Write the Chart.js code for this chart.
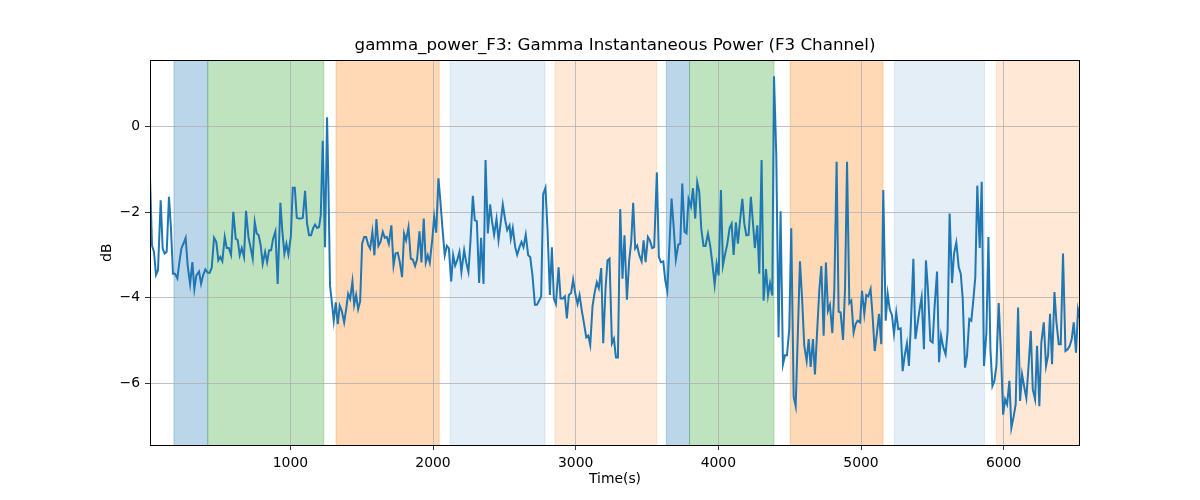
<!DOCTYPE html>
<html>
<head>
<meta charset="utf-8">
<script src="https://cdn.jsdelivr.net/npm/chart.js@4"></script>
<style>
  body { margin: 0; background: #fff; }
  #wrap { width: 1200px; height: 500px; }
</style>
</head>
<body>
<div id="wrap"><canvas id="chart" width="1200" height="500"></canvas></div>
<script>
// sample times (s) and F3 gamma power (dB)
const times = [
  16, 30, 44, 58, 72, 91, 105, 119, 133, 149, 163, 177, 191, 208, 222, 236, 250, 266, 280, 297, 313, 327, 341, 360, 374, 388, 404, 421, 435, 449, 465, 481, 495, 509, 523, 540, 554, 568, 584, 600, 617, 631, 645, 659, 675, 689, 706, 720, 736, 750, 764, 778, 792, 806, 823, 837, 851,
  865, 879, 895, 911, 930, 944, 958, 972, 986, 1003, 1017, 1031, 1045, 1059, 1073, 1087, 1103, 1117, 1131, 1145, 1159, 1173, 1187, 1201, 1213, 1227, 1243, 1257, 1267, 1278, 1292, 1304, 1318, 1332, 1346, 1360, 1377, 1391, 1405, 1419, 1435, 1447, 1461, 1475, 1489, 1503, 1517, 1531, 1545, 1559, 1575, 1589, 1603, 1617, 1631, 1648, 1662, 1676, 1690,
  1708, 1723, 1737, 1753, 1767, 1783, 1797, 1811, 1828, 1844, 1858, 1874, 1888, 1905, 1919, 1935, 1949, 1963, 1977, 1994, 2008, 2022, 2038, 2052, 2066, 2082, 2097, 2111, 2127, 2141, 2155, 2169, 2185, 2199, 2218, 2232, 2248, 2262, 2279, 2293, 2307, 2323, 2337, 2354, 2368, 2384, 2400, 2414, 2428, 2445, 2459, 2475, 2489, 2506, 2520, 2536,
  2545, 2559, 2576, 2590, 2606, 2620, 2634, 2650, 2667, 2681, 2697, 2714, 2728, 2744, 2758, 2772, 2788, 2802, 2819, 2833, 2847, 2861, 2880, 2894, 2910, 2924, 2938, 2952, 2968, 2982, 2999, 3013, 3027, 3043, 3057, 3074, 3088, 3102, 3118, 3134, 3148, 3162, 3179, 3193, 3209, 3223, 3237, 3254, 3268, 3282, 3296, 3312, 3328, 3342, 3359,
  3375, 3389, 3403, 3417, 3431, 3445, 3462, 3476, 3490, 3506, 3520, 3536, 3550, 3569, 3583, 3597, 3614, 3628, 3642, 3656, 3672, 3686, 3702, 3719, 3733, 3747, 3763, 3777, 3791, 3808, 3822, 3838, 3852, 3866, 3880, 3896, 3910, 3927, 3943, 3957, 3974, 3988, 4002, 4018, 4032, 4048, 4062, 4079, 4093, 4107, 4123, 4137, 4151, 4168, 4182, 4196, 4212,
  4228, 4242, 4256, 4273, 4287, 4303, 4317, 4334, 4348, 4362, 4378, 4390, 4406, 4422, 4436, 4453, 4467, 4481, 4497, 4511, 4528, 4542, 4558, 4572, 4588, 4602, 4619, 4633, 4647, 4663, 4677, 4691, 4708, 4722, 4738, 4754, 4768, 4782, 4799, 4813, 4829, 4843, 4857, 4874, 4888, 4902, 4918, 4932, 4948, 4962, 4976, 4993, 5007, 5023, 5037, 5051,
  5067, 5081, 5096, 5112, 5126, 5142, 5156, 5173, 5187, 5201, 5217, 5231, 5247, 5261, 5278, 5292, 5306, 5322, 5336, 5350, 5367, 5381, 5397, 5411, 5425, 5441, 5455, 5469, 5486, 5502, 5516, 5533, 5547, 5561, 5577, 5593, 5607, 5621, 5638, 5652, 5668, 5685, 5699, 5713, 5729, 5743, 5759, 5773, 5787, 5801, 5815, 5832, 5846, 5862, 5879, 5893,
  5907, 5921, 5935, 5949, 5965, 5982, 5996, 6010, 6024, 6040, 6054, 6070, 6084, 6101, 6115, 6129, 6145, 6159, 6176, 6190, 6204, 6220, 6234, 6250, 6264, 6281, 6297, 6311, 6325, 6339, 6356, 6370, 6386, 6400, 6416, 6433, 6449, 6463, 6477, 6491, 6507, 6521, 6535
];
const power = [
  -1.2, -2.78, -2.93, -3.47, -3.36, -1.72, -2.85, -2.97, -2.93, -1.64, -2.38, -3.44, -3.44, -3.55, -3.17, -2.85, -2.74, -2.6, -3.25, -3.68, -3.17, -3.8, -3.48, -3.39, -3.68, -3.48, -3.34, -3.42, -3.42, -3.29, -2.6, -2.7, -3.13, -3.05, -3.15, -2.58, -2.84, -2.84, -3.0, -1.99, -2.62, -2.66, -3.01, -2.84, -3.05, -1.97, -2.58, -2.82, -3.09, -2.23, -2.5, -2.54, -2.78, -3.21, -2.93, -3.17, -2.89,
  -2.89, -2.62, -2.45, -3.68, -1.78, -2.46, -2.97, -2.74, -2.99, -2.58, -1.43, -1.43, -2.13, -2.15, -2.15, -2.13, -1.5, -2.27, -2.54, -2.54, -2.38, -2.29, -2.37, -2.35, -2.07, -0.33, -2.82, 0.22, -1.44, -3.72, -4.15, -4.54, -4.11, -4.62, -4.19, -4.31, -4.58, -4.27, -3.91, -4.03, -3.62, -4.17, -3.94, -4.27, -4.09, -2.74, -2.58, -2.58, -2.76, -2.85, -2.46, -3.01, -2.16, -2.79, -2.7, -2.46, -2.6, -2.58, -2.74,
  -2.31, -3.25, -2.97, -2.95, -3.17, -3.52, -2.5, -2.66, -2.35, -3.09, -3.11, -3.26, -3.11, -2.45, -3.18, -2.15, -3.18, -3.01, -3.18, -2.66, -2.11, -2.48, -1.21, -1.76, -2.38, -3.01, -2.79, -2.85, -3.62, -3.01, -3.25, -3.13, -2.93, -3.4, -2.89, -3.17, -3.4, -2.7, -1.62, -2.19, -2.21, -3.66, -2.6, -3.68, -0.78, -2.5, -1.82, -2.23, -2.53, -2.16, -2.66, -2.23, -1.82, -2.19, -2.42, -2.31,
  -2.62, -2.37, -2.82, -3.0, -2.82, -2.7, -2.82, -2.53, -3.01, -3.05, -3.48, -4.17, -4.17, -4.07, -3.97, -1.58, -1.43, -2.38, -3.94, -2.82, -4.03, -4.15, -3.29, -4.02, -4.02, -3.97, -4.49, -3.94, -3.89, -3.58, -3.94, -4.15, -3.94, -4.31, -4.58, -4.93, -4.89, -5.11, -4.2, -3.86, -3.64, -3.78, -3.31, -5.07, -3.8, -3.13, -3.09, -5.07, -4.96, -5.4, -5.4, -1.93, -3.56, -2.54, -4.05,
  -3.13, -2.7, -1.78, -2.85, -2.78, -3.0, -3.15, -2.66, -3.17, -2.58, -2.66, -2.84, -2.82, -1.07, -3.05, -3.17, -3.15, -3.6, -3.84, -2.85, -1.68, -2.31, -3.11, -2.76, -2.74, -1.33, -2.46, -2.5, -1.69, -1.87, -1.44, -2.15, -1.3, -1.52, -2.38, -2.79, -2.79, -2.5, -2.79, -3.17, -3.7, -3.21, -3.48, -1.48, -3.25, -2.97, -2.76, -2.37, -2.27, -3.0, -2.24, -2.74, -2.23, -1.69, -2.27, -2.54, -2.53,
  -1.64, -2.23, -2.84, -2.31, -3.44, -0.78, -4.07, -3.33, -3.95, -3.66, -3.95, 1.18, -0.66, -4.93, -1.98, -5.56, -5.35, -5.35, -4.74, -2.38, -6.32, -6.54, -4.74, -3.15, -4.09, -5.12, -5.48, -4.97, -5.62, -4.97, -5.8, -4.88, -3.8, -3.26, -4.89, -3.18, -4.31, -4.17, -4.83, -3.8, -0.82, -4.33, -4.35, -4.99, -3.8, -0.82, -4.13, -4.07, -4.82, -4.62, -4.54, -4.58, -3.84, -4.38, -3.94, -3.97,
  -3.8, -4.42, -5.25, -4.82, -4.38, -5.09, -1.48, -4.54, -3.91, -4.27, -4.41, -4.85, -4.35, -4.74, -4.72, -5.72, -5.36, -5.07, -5.6, -4.58, -3.09, -4.97, -4.6, -4.27, -3.99, -5.21, -3.13, -3.8, -5.01, -5.05, -4.2, -3.39, -5.51, -4.89, -5.17, -5.33, -4.78, -2.03, -3.66, -2.97, -2.71, -3.29, -3.44, -4.03, -5.64, -5.36, -4.5, -4.54, -4.07, -3.52, -1.38, -2.84, -1.29, -5.6, -4.82, -2.58,
  -5.2, -6.07, -5.95, -5.6, -4.13, -5.36, -6.74, -6.38, -6.5, -5.95, -7.05, -6.78, -6.5, -4.23, -6.42, -5.8, -6.11, -6.35, -5.52, -4.78, -6.15, -6.38, -5.13, -6.54, -5.05, -4.58, -5.6, -5.36, -4.38, -5.56, -3.87, -4.58, -5.09, -5.09, -2.97, -5.25, -5.21, -5.13, -4.97, -4.58, -5.29, -4.28, -4.5
];

// shaded stage spans (s)
const bandStart = [184, 421, 1320, 2120, 2855, 3635, 3798, 4504, 5234, 5949];
const bandEnd = [421, 1234, 2043, 2785, 3569, 3798, 4390, 5154, 5865, 6535];

const xTicks = [1000, 2000, 3000, 4000, 5000, 6000];
const yTicks = [-6, -4, -2, 0];

const bandColors = [
  'rgba(31,119,180,0.3)', 'rgba(44,160,44,0.3)', 'rgba(255,127,14,0.3)',
  'rgba(31,119,180,0.12)', 'rgba(255,127,14,0.17)',
  'rgba(31,119,180,0.3)', 'rgba(44,160,44,0.3)', 'rgba(255,127,14,0.3)',
  'rgba(31,119,180,0.12)', 'rgba(255,127,14,0.17)'
];

Chart.defaults.font.family = '"DejaVu Sans", sans-serif';
Chart.defaults.color = '#000';

// matplotlib style minus sign
const fmt = v => String(v).replace('-', '\u2212');

// spans go under the grid, like axvspan
const bands = {
  id: 'bands',
  beforeDraw(chart) {
    const { ctx, chartArea: a, scales: { x } } = chart;
    ctx.save();
    ctx.beginPath();
    ctx.rect(a.left, a.top, a.width, a.height);
    ctx.clip();
    bandStart.forEach((s, i) => {
      const x0 = x.getPixelForValue(s);
      const x1 = x.getPixelForValue(bandEnd[i]);
      ctx.fillStyle = bandColors[i];
      ctx.fillRect(x0, a.top, x1 - x0, a.height);
      ctx.strokeStyle = bandColors[i];
      ctx.lineWidth = 1;
      ctx.beginPath();
      ctx.moveTo(x0, a.top); ctx.lineTo(x0, a.bottom);
      ctx.moveTo(x1, a.top); ctx.lineTo(x1, a.bottom);
      ctx.stroke();
    });
    ctx.restore();
  }
};

const frame = {
  id: 'frame',
  afterDraw(chart) {
    const { ctx, chartArea: a } = chart;
    ctx.save();
    ctx.strokeStyle = '#000';
    ctx.lineWidth = 1;
    ctx.strokeRect(Math.round(a.left) + 0.5, Math.round(a.top) + 0.5,
      Math.round(a.width) - 1, Math.round(a.height));
    ctx.restore();
  }
};

new Chart(document.getElementById('chart'), {
  type: 'line',
  data: {
    datasets: [{
      data: times.map((t, i) => ({ x: t, y: power[i] })),
      borderColor: '#1f77b4',
      borderWidth: 2,
      pointRadius: 0,
      tension: 0,
      fill: false
    }]
  },
  options: {
    responsive: false,
    animation: false,
    devicePixelRatio: 1,
    layout: { padding: { left: 0, right: 120, top: 0, bottom: 0 } },
    plugins: {
      legend: { display: false },
      tooltip: { enabled: false },
      title: {
        display: true,
        text: 'gamma_power_F3: Gamma Instantaneous Power (F3 Channel)',
        fullSize: false,
        font: { size: 16.7, weight: 'normal' },
        color: '#000',
        padding: { top: 36, bottom: 4 }
      }
    },
    scales: {
      x: {
        type: 'linear',
        min: 16,
        max: 6535,
        afterBuildTicks: s => { s.ticks = xTicks.map(v => ({ value: v })); },
        afterFit: s => { s.height = 55; },
        grid: { color: '#b0b0b0', lineWidth: 0.8, tickColor: '#000', tickLength: 5 },
        border: { display: false },
        ticks: { font: { size: 13.9 }, padding: 5, maxRotation: 0, callback: fmt },
        title: { display: true, text: 'Time(s)', font: { size: 13.9 }, padding: { top: 0, bottom: 12 } }
      },
      y: {
        min: -7.45,
        max: 1.56,
        afterBuildTicks: s => { s.ticks = yTicks.map(v => ({ value: v })); },
        afterFit: s => { s.width = 150; },
        grid: { color: '#b0b0b0', lineWidth: 0.8, tickColor: '#000', tickLength: 5 },
        border: { display: false },
        ticks: { font: { size: 13.9 }, padding: 5, callback: fmt },
        title: { display: true, text: 'dB', font: { size: 13.9 }, padding: { top: 99, bottom: 0 } }
      }
    }
  },
  plugins: [bands, frame]
});
</script>
</body>
</html>
